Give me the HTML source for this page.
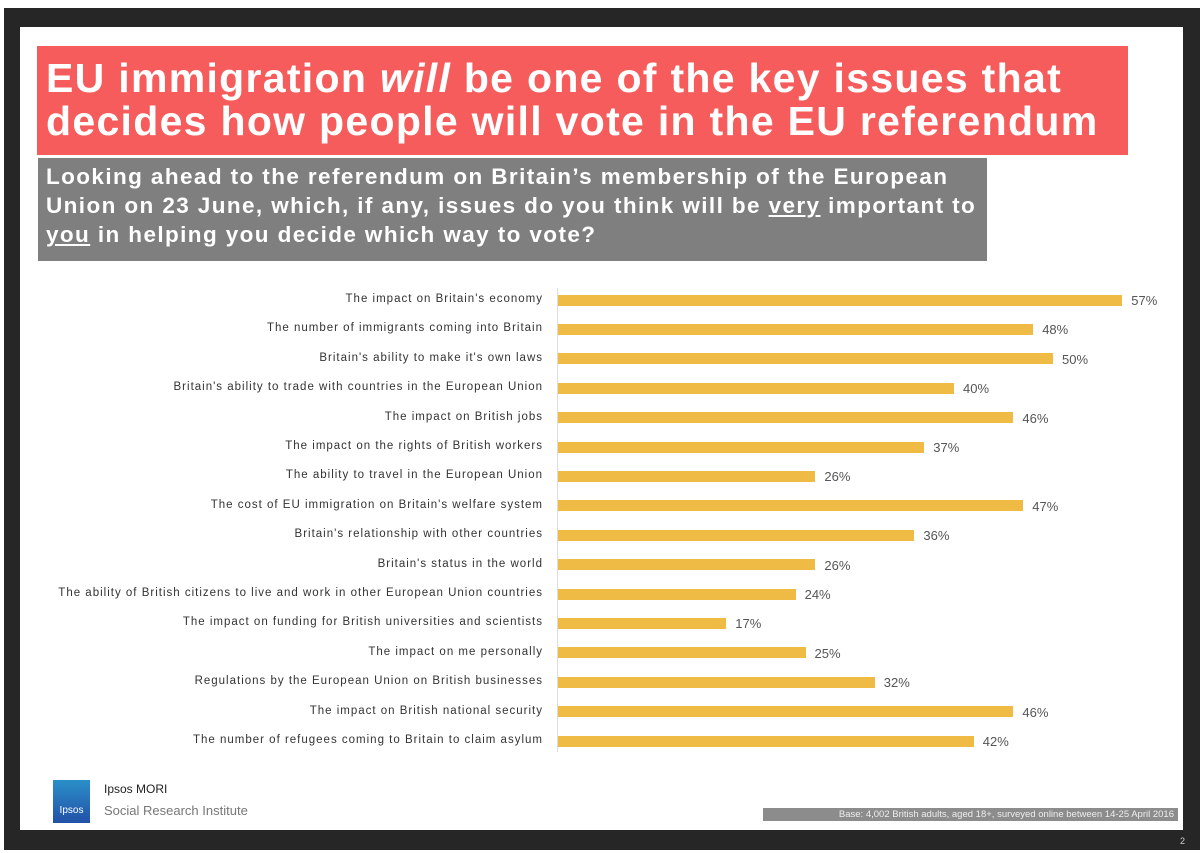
<!DOCTYPE html>
<html><head><meta charset="utf-8"><style>
body{margin:0;width:1200px;height:853px;background:#fff;position:relative;overflow:hidden;font-family:"Liberation Sans",sans-serif}
.abs{position:absolute}
#frame{left:4px;top:8px;width:1196px;height:842px;background:#262626}
#slide{left:20px;top:27px;width:1163px;height:803px;background:#fff}
#title{left:37px;top:46px;width:1091px;height:109px;background:#f65c5c;color:#fff;font-weight:bold;font-size:41px;letter-spacing:1.3px;line-height:43px;padding:11px 0 0 9px;box-sizing:border-box;white-space:nowrap}
#q{left:38px;top:158px;width:949px;height:103px;background:#7f7f7f;color:#fff;font-weight:bold;font-size:22.5px;letter-spacing:1.4px;line-height:29px;padding:4px 0 0 8px;box-sizing:border-box;white-space:nowrap}
.lab{font-size:11.5px;letter-spacing:1px;color:#333;text-align:right;width:540px;left:3px;white-space:nowrap}
.val{font-size:13px;color:#555}
</style></head><body>
<div id="frame" class="abs"></div>
<div id="slide" class="abs"></div>
<div id="title" class="abs">EU immigration <i>will</i> be one of the key issues that<br>decides how people will vote in the EU referendum</div>
<div id="q" class="abs">Looking ahead to the referendum on Britain’s membership of the European<br>Union on 23 June, which, if any, issues do you think will be <u>very</u> important to<br><u>you</u> in helping you decide which way to vote?</div>
<div class="abs" style="left:557px;top:288px;width:1px;height:464px;background:#ddd"></div>
<div id="chart"></div>
<div class="abs" style="left:53px;top:780px;width:37px;height:43px;background:linear-gradient(#2a8fc8,#2251a8);color:#fff;font-size:10px;text-align:center;line-height:62px">Ipsos</div>
<div class="abs" style="left:104px;top:782px;font-size:12px;color:#222">Ipsos MORI</div>
<div class="abs" style="left:104px;top:803px;font-size:13px;color:#777">Social Research Institute</div>
<div class="abs" style="left:763px;top:808px;width:415px;height:13px;background:#8c8c8c;color:#eee;font-size:9.5px;line-height:13px;text-align:right;padding-right:4px;box-sizing:border-box;white-space:nowrap">Base: 4,002 British adults, aged 18+, surveyed online between 14-25 April 2016</div>
<div class="abs" style="left:1180px;top:836px;font-size:9px;color:#ccc">2</div>
<script>
const categories=["The impact on Britain's economy","The number of immigrants coming into Britain","Britain's ability to make it's own laws","Britain's ability to trade with countries in the European Union","The impact on British jobs","The impact on the rights of British workers","The ability to travel in the European Union","The cost of EU immigration on Britain's welfare system","Britain's relationship with other countries","Britain's status in the world","The ability of British citizens to live and work in other European Union countries","The impact on funding for British universities and scientists","The impact on me personally","Regulations by the European Union on British businesses","The impact on British national security","The number of refugees coming to Britain to claim asylum"];
const values=[57,48,50,40,46,37,26,47,36,26,24,17,25,32,46,42];
const x0=558,pxPer=9.9,y0=300,step=29.4,bh=11;
const xs=v=>v*pxPer, ys=i=>y0+i*step;
const c=document.getElementById('chart');
categories.forEach((cat,i)=>{
 const y=ys(i);
 const l=document.createElement('div');l.className='abs lab';l.style.top=(y-7)+'px';l.textContent=cat;
 
 
 c.appendChild(l);
 const b=document.createElement('div');b.className='abs';
 b.style.cssText=`left:${x0}px;top:${y-bh/2}px;width:${xs(values[i])}px;height:${bh}px;background:#f0bb45`;
 
 
 c.appendChild(b);
 const v=document.createElement('div');v.className='abs val';v.style.left=(x0+xs(values[i])+9)+'px';v.style.top=(y-7)+'px';v.textContent=values[i]+'%';
 
 
 c.appendChild(v);
});
</script>
</body></html>
